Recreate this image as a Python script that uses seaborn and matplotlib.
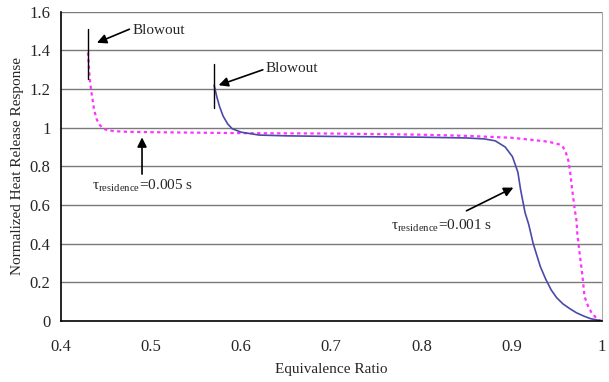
import numpy as np
import pandas as pd
import matplotlib
matplotlib.use('Agg')
import matplotlib.pyplot as plt
import seaborn as sns

# Curves
phi_005 = [0.430, 0.432, 0.434, 0.437, 0.440, 0.443, 0.447, 0.452, 0.46, 0.473,
           0.50, 0.60, 0.70, 0.80, 0.85, 0.90, 0.923, 0.940, 0.948, 0.954,
           0.957, 0.960, 0.963, 0.965, 0.967, 0.970, 0.972, 0.973, 0.976, 0.978,
           0.981, 0.985, 0.989, 0.993, 0.996, 1.0]
hrr_005 = [1.39, 1.25, 1.18, 1.09, 1.04, 1.015, 0.995, 0.987, 0.982, 0.979,
           0.977, 0.972, 0.970, 0.964, 0.958, 0.948, 0.937, 0.928, 0.92, 0.912,
           0.90, 0.875, 0.83, 0.77, 0.69, 0.58, 0.52, 0.45, 0.33, 0.26,
           0.125, 0.075, 0.04, 0.02, 0.005, 0.0]

phi_001 = [0.570, 0.573, 0.576, 0.580, 0.585, 0.590, 0.600, 0.620, 0.650, 0.700,
           0.800, 0.850, 0.870, 0.882, 0.893, 0.901, 0.907, 0.910, 0.915, 0.919,
           0.924, 0.932, 0.938, 0.944, 0.950, 0.957, 0.965, 0.972, 0.980, 0.988,
           1.0]
hrr_001 = [1.22, 1.16, 1.11, 1.06, 1.02, 0.995, 0.977, 0.962, 0.958, 0.955,
           0.951, 0.947, 0.942, 0.932, 0.90, 0.85, 0.77, 0.68, 0.56, 0.50,
           0.40, 0.28, 0.215, 0.16, 0.12, 0.088, 0.062, 0.042, 0.025, 0.011,
           0.0]

x_ticks = [0.4, 0.5, 0.6, 0.7, 0.8, 0.9, 1.0]
x_tick_labels = ['0.4', '0.5', '0.6', '0.7', '0.8', '0.9', '1']
y_ticks = [0, 0.2, 0.4, 0.6, 0.8, 1.0, 1.2, 1.4, 1.6]
y_tick_labels = ['0', '0.2', '0.4', '0.6', '0.8', '1', '1.2', '1.4', '1.6']

df_005 = pd.DataFrame({'phi': phi_005, 'hrr': hrr_005})
df_001 = pd.DataFrame({'phi': phi_001, 'hrr': hrr_001})

sns.set_style('white')
plt.rcParams['font.family'] = ['Liberation Serif', 'DejaVu Serif']
plt.rcParams['mathtext.fontset'] = 'custom'
plt.rcParams['mathtext.rm'] = 'Liberation Serif'

fig, ax = plt.subplots(figsize=(6.09, 3.82), dpi=100)
fig.subplots_adjust(left=0.1, right=0.988, top=0.969, bottom=0.16)

# horizontal gridlines
for yv in y_ticks[1:]:
    ax.axhline(yv, color='#7a7a7a', lw=1.0, zorder=0)

sns.lineplot(data=df_005, x='phi', y='hrr', ax=ax, color='#ff33ff',
             lw=1.6, linestyle=(0, (1.5, 1.5)), estimator=None, sort=False)
sns.lineplot(data=df_001, x='phi', y='hrr', ax=ax, color='#4a4aa8',
             lw=1.2, estimator=None, sort=False)

# blowout markers
ax.plot([0.43, 0.43], [1.25, 1.51], color='black', lw=1)
ax.plot([0.57, 0.57], [1.10, 1.33], color='black', lw=1)

arrow = dict(arrowstyle='-|>', color='black', lw=1.2, mutation_scale=14,
             shrinkA=0, shrinkB=0)
ax.text(0.479, 1.505, 'Blowout', fontsize=11, va='center', ha='left')
ax.annotate('', xy=(0.440, 1.44), xytext=(0.476, 1.51), arrowprops=arrow)
ax.text(0.627, 1.305, 'Blowout', fontsize=11, va='center', ha='left')
ax.annotate('', xy=(0.575, 1.22), xytext=(0.624, 1.30), arrowprops=arrow)
ax.text(0.434, 0.70, 'τ$_{\\mathrm{residence}}$=0.005 s', fontsize=11,
        va='center', ha='left')
ax.annotate('', xy=(0.49, 0.95), xytext=(0.49, 0.76), arrowprops=arrow)
ax.text(0.766, 0.495, 'τ$_{\\mathrm{residence}}$=0.001 s', fontsize=11,
        va='center', ha='left')
ax.annotate('', xy=(0.902, 0.69), xytext=(0.85, 0.57), arrowprops=arrow)

ax.set_xlim(0.4, 1.0)
ax.set_ylim(0, 1.6)
ax.set_xticks(x_ticks)
ax.set_xticklabels(x_tick_labels)
ax.set_yticks(y_ticks)
ax.set_yticklabels(y_tick_labels)
ax.tick_params(axis='both', direction='out', length=4, width=1,
               color='black', labelsize=12)
ax.tick_params(axis='x', pad=9)
ax.set_xlabel('Equivalence Ratio', fontsize=11, labelpad=6)
ax.set_ylabel('Normalized Heat Release Response', fontsize=11, labelpad=4)

for side in ['left', 'bottom']:
    ax.spines[side].set_color('black')
    ax.spines[side].set_linewidth(1.2)
ax.spines['right'].set_color('#aaaaaa')
ax.spines['top'].set_visible(False)

fig.savefig('out.png', dpi=100)
